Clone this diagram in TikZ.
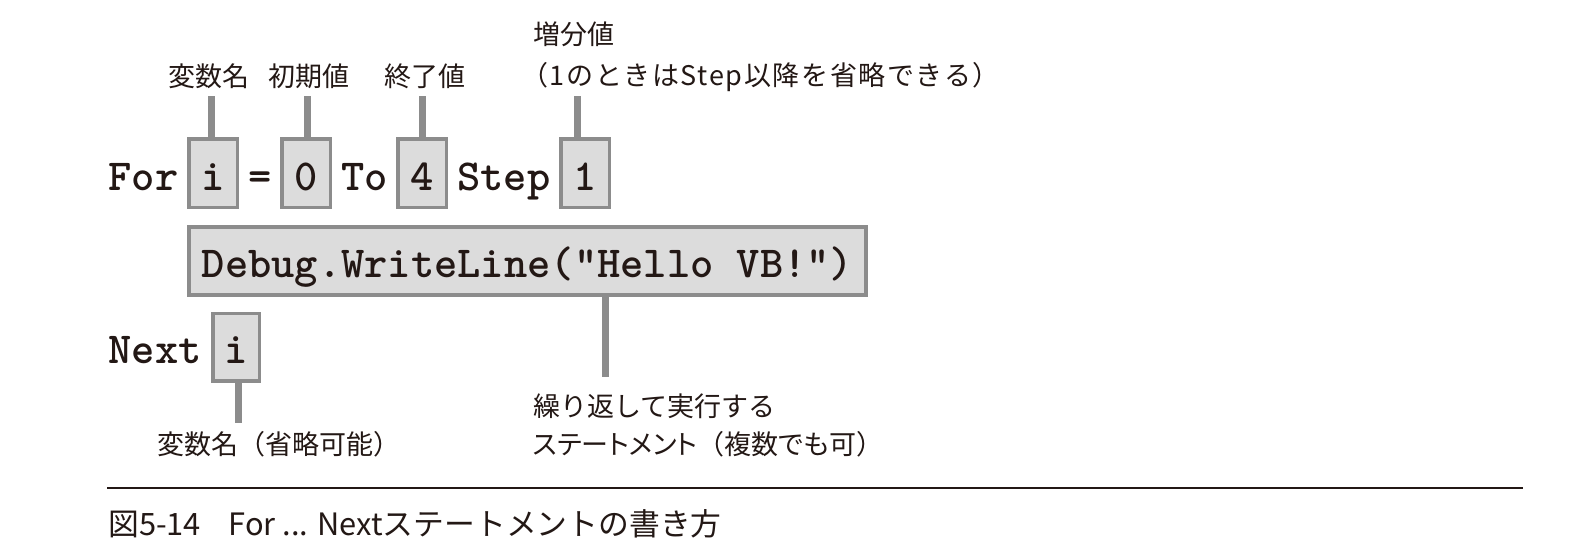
\documentclass[tikz,border=0pt]{standalone}
\usepackage{fontspec}
\newfontfamily\jpfont{Noto Sans CJK JP}
\newfontfamily\jppfont{Noto Sans CJK JP}[RawFeature=+palt]
\newfontfamily\jpwfont{Noto Sans CJK JP}[LetterSpace=6]
\newcommand\cdfont{\fontsize{44.3pt}{50pt}\selectfont\ttfamily\bfseries}
\newcommand\lbfont{\fontsize{27pt}{32pt}\selectfont\jpfont}
\newcommand\cpfont{\fontsize{30.8pt}{36pt}\selectfont\jpfont}
\definecolor{ink}{HTML}{231815}
\definecolor{boxgray}{HTML}{8C8C8C}
\definecolor{boxfill}{HTML}{DCDCDC}
\begin{document}
\begin{tikzpicture}[x=1pt,y=-1pt,
  cbox/.style={draw=boxgray, fill=boxfill, line width=3.5pt, inner xsep=0pt, inner ysep=0pt,
    minimum width=48.5pt, text height=51pt, text depth=17.5pt, font=\cdfont, anchor=base, text=ink},
  code/.style={font=\cdfont, inner sep=0pt, anchor=base west, text=ink},
  stem/.style={draw=boxgray, line width=7pt},
  lab/.style={font=\lbfont, inner sep=0pt, text=ink}]
\useasboundingbox[fill=white] (0,0) rectangle (1586,541);

% line 1
\node[code] (for) at (108.4,190) {For};
\node[cbox] (bi) at (213.0,190) {i};
\node[code] (eq) at (247.9,190) {=};
\node[cbox] (b0) at (306.0,190) {0};
\node[code] (to) at (340.9,190) {To};
\node[cbox] (b4) at (422.3,190) {4};
\node[code] (step) at (457.15,190) {Step};
\node[cbox] (b1) at (585.0,190) {1};

% line 2
\node[cbox, minimum width=677pt, text height=50pt, text depth=18pt] (dbg) at (527.5,277) {Debug.WriteLine("Hello VB!")};

% line 3
\node[code] (next) at (108.4,363) {Next};
\node[cbox, minimum width=46.5pt, text height=49.5pt, text depth=18pt] (bn) at (236.3,363) {i};

% labels
\node[lab] (lvar) at (208.5,76.5) {変数名};
\node[lab] (linit) at (308.5,76.5) {初期値};
\node[lab] (lend) at (425,76.5) {終了値};
\node[lab, anchor=west] (lstep) at (533,34) {増分値};
\node[lab, anchor=west] (lstep2) at (521,77) {\jpwfont （1のときはStep以降を省略できる）};
\node[lab, anchor=west] (lnext) at (157,444) {変数名（省略可能）};
\node[lab, anchor=west] (lbody) at (533,406) {繰り返して実行する};
\node[lab, anchor=west] (lbody2) at (533,444) {{\jppfont ステートメント}（{\jppfont 複数でも可}）};

% stems
\coordinate (ti) at (211.5,96);
\coordinate (t0) at (307,96);
\coordinate (t4) at (422,96);
\coordinate (t1) at (577,96);
\coordinate (tD) at (605,377);
\coordinate (tN) at (238.5,423);
\draw[stem] (ti) -- (ti |- bi.north);
\draw[stem] (t0) -- (t0 |- b0.north);
\draw[stem] (t4) -- (t4 |- b4.north);
\draw[stem] (t1) -- (t1 |- b1.north);
\draw[stem] (dbg.south -| tD) -- (tD);
\draw[stem] (bn.south -| tN) -- (tN);

% rule and caption
\coordinate (rl) at (107,488);
\coordinate (rr) at (1523,488);
\draw[ink, line width=1.8pt] (rl) -- (rr);
\node[font=\cpfont, inner sep=0pt, anchor=base west, text=ink] (cap) at (108,535)
  {図5-14\hspace{0.9em}For ... Nextステートメントの書き方};
\end{tikzpicture}
\end{document}
